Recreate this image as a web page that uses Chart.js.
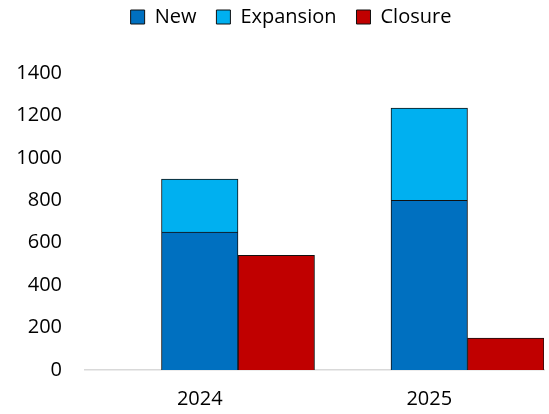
<!DOCTYPE html>
<html lang="en">
<head>
    <meta charset="UTF-8">
    <title>New, Expansion and Closure</title>
    <script src="https://cdn.jsdelivr.net/npm/chart.js"></script>
    <style>
        body { margin: 0; background: #fff; }
        .chart-box { width: 549px; height: 414px; }
    </style>
</head>
<body>
    <div class="chart-box">
        <canvas id="chart"></canvas>
    </div>

    <script>
        const years = ['2024', '2025'];
        const newValues = [650, 800];
        const expansionValues = [250, 435];
        const closureValues = [540, 150];
        const yTicks = [0, 200, 400, 600, 800, 1000, 1200, 1400];

        const font = { family: '"Open Sans", sans-serif', size: 20 };

        // fixed legend block height so the plot starts lower,
        // and the legend row nudged a little to the right
        const legendSpace = {
            id: 'legendSpace',
            beforeInit(chart) {
                const fit = chart.legend.fit;
                chart.legend.fit = function () {
                    fit.call(this);
                    this.height = 86;
                };
            },
            afterLayout(chart) {
                chart.legend.left += 19;
                chart.legend.right += 19;
            }
        };

        new Chart(document.getElementById('chart'), {
            type: 'bar',
            data: {
                labels: years,
                datasets: [
                    // empty slot that keeps the left third of each year free
                    { label: '', data: [null, null], stack: 'gap' },
                    { label: 'New', data: newValues, stack: 'open',
                      backgroundColor: '#0070C0', borderColor: '#111', borderWidth: 1 },
                    { label: 'Expansion', data: expansionValues, stack: 'open',
                      backgroundColor: '#00B0F0', borderColor: '#111', borderWidth: 1 },
                    { label: 'Closure', data: closureValues, stack: 'close',
                      backgroundColor: '#C00000', borderColor: '#111', borderWidth: 1 }
                ]
            },
            options: {
                responsive: true,
                maintainAspectRatio: false,
                animation: false,
                categoryPercentage: 1,
                barPercentage: 1,
                // negative top pulls the legend row up against the edge
                layout: { padding: { left: 0, right: 5, top: -13, bottom: 0 } },
                plugins: {
                    tooltip: { enabled: false },
                    legend: {
                        position: 'top',
                        labels: {
                            font: font,
                            color: '#000',
                            boxWidth: 14,
                            boxHeight: 14,
                            padding: 20,
                            filter: item => item.text !== ''
                        }
                    }
                },
                scales: {
                    x: {
                        stacked: true,
                        afterFit: s => { s.height = 44; },
                        grid: { display: false, drawTicks: false },
                        border: { color: '#d9d9d9', width: 1.5 },
                        ticks: { font: font, color: '#000', padding: 17 }
                    },
                    y: {
                        stacked: true,
                        min: 0,
                        max: 1400,
                        afterBuildTicks: s => { s.ticks = yTicks.map(v => ({ value: v })); },
                        afterFit: s => { s.width = 85; },
                        grid: { display: false, drawTicks: false },
                        border: { display: false },
                        ticks: { font: font, color: '#000', padding: 23, callback: v => String(v) }
                    }
                }
            },
            plugins: [legendSpace]
        });
    </script>
</body>
</html>
